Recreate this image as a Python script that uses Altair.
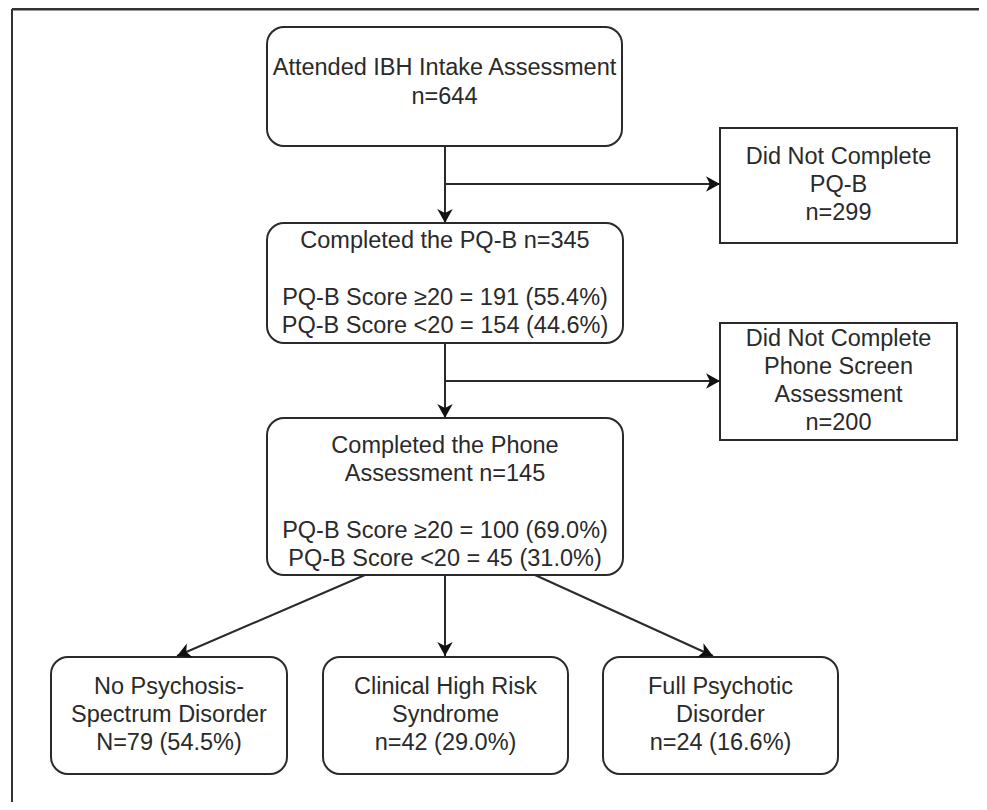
import math
import altair as alt
import pandas as pd

# ---------------- content ----------------
box_labels = [
    "Attended IBH Intake Assessment\nn=644",
    "Did Not Complete\nPQ-B\nn=299",
    "Completed the PQ-B n=345\n\nPQ-B Score \u226520 = 191 (55.4%)\nPQ-B Score <20 = 154 (44.6%)",
    "Did Not Complete\nPhone Screen\nAssessment\nn=200",
    "Completed the Phone\nAssessment n=145\n\nPQ-B Score \u226520 = 100 (69.0%)\nPQ-B Score <20 = 45 (31.0%)",
    "No Psychosis-\nSpectrum Disorder\nN=79 (54.5%)",
    "Clinical High Risk\nSyndrome\nn=42 (29.0%)",
    "Full Psychotic\nDisorder\nn=24 (16.6%)",
]
box_rounded = [True, False, True, False, True, True, True, True]

# ---------------- layout (page pixels) ----------------
box_x0 = [267, 720, 267, 720, 267, 51, 323, 603]
box_x1 = [622, 957, 623, 957, 623, 287, 568, 838]
box_y0 = [27, 128, 223, 323, 418, 657, 657, 657]
box_y1 = [146, 243, 343, 440, 575, 774, 774, 774]
text_y = [82.5, 185, 283.5, 381, 502.5, 715, 715, 715]
LINE_H = 28.3

edge_x1 = [445, 445, 445, 445, 445, 365, 535]
edge_y1 = [146, 184, 343, 381, 575, 575, 575]
edge_x2 = [445, 720, 445, 720, 445, 177, 713]
edge_y2 = [223, 184, 418, 381, 656, 656, 656]

frame_x0, frame_y0, frame_x1, frame_y1 = 12, 9, 979, 802

W, H, M = 971, 794, 8
xs = alt.Scale(domain=[M, M + W], nice=False, zero=False)
ys = alt.Scale(domain=[M, M + H], nice=False, zero=False, reverse=True)

INK = "#2a2a2a"
FONT = "Liberation Sans"

boxes = pd.DataFrame({
    "x0": box_x0, "x1": box_x1, "y0": box_y0, "y1": box_y1,
    "rounded": box_rounded,
})

# one row per text line, positioned around the box's text centre
rows = []
for lab, a, b, ty in zip(box_labels, box_x0, box_x1, text_y):
    parts = lab.split("\n")
    n = len(parts)
    for i, p in enumerate(parts):
        if p:
            rows.append({"tx": (a + b) / 2, "ty": ty + (i - (n - 1) / 2) * LINE_H, "line": p})
text_df = pd.DataFrame(rows)

edges = pd.DataFrame({"x1": edge_x1, "y1": edge_y1, "x2": edge_x2, "y2": edge_y2})
edges["angle"] = [
    (math.degrees(math.atan2(b2 - b1, a2 - a1)) + 360) % 360
    for a1, b1, a2, b2 in zip(edge_x1, edge_y1, edge_x2, edge_y2)
]


def qx(f):
    return alt.X(f, type="quantitative", scale=xs, axis=None)


def qy(f):
    return alt.Y(f, type="quantitative", scale=ys, axis=None)


frame_df = pd.DataFrame({
    "x1": [frame_x0, frame_x0], "y1": [frame_y0, frame_y0],
    "x2": [frame_x1, frame_x0], "y2": [frame_y0, frame_y1],
    "w": [3, 2],
})
frame = alt.Chart(frame_df).mark_rule(color="#333333").encode(
    x=qx("x1"), y=qy("y1"), x2=alt.X2("x2"), y2=alt.Y2("y2"),
    strokeWidth=alt.StrokeWidth("w:Q", scale=None),
)

lines = alt.Chart(edges).mark_rule(color=INK, strokeWidth=2).encode(
    x=qx("x1"), y=qy("y1"), x2=alt.X2("x2"), y2=alt.Y2("y2"),
)

arrow_path = "M0,0 L-1,-0.55 L-0.72,0 L-1,0.55 Z"
heads = alt.Chart(edges).mark_point(
    shape=arrow_path, filled=True, size=784, color="#111111", opacity=1, strokeWidth=0
).encode(
    x=qx("x2"), y=qy("y2"), angle=alt.Angle("angle:Q", scale=None),
)

rounded = alt.Chart(boxes).transform_filter("datum.rounded").mark_rect(
    fill="white", stroke=INK, strokeWidth=2, cornerRadius=17
).encode(x=qx("x0"), x2=alt.X2("x1"), y=qy("y0"), y2=alt.Y2("y1"))

square = alt.Chart(boxes).transform_filter("!datum.rounded").mark_rect(
    fill="white", stroke=INK, strokeWidth=2
).encode(x=qx("x0"), x2=alt.X2("x1"), y=qy("y0"), y2=alt.Y2("y1"))

texts = alt.Chart(text_df).mark_text(
    font=FONT, fontSize=23.5, color=INK, align="center", baseline="middle",
).encode(x=qx("tx"), y=qy("ty"), text="line:N")

chart = alt.layer(frame, lines, rounded, square, heads, texts).properties(
    width=W, height=H, autosize=alt.AutoSizeParams(type="none"), padding=0,
    background="white",
).configure_view(stroke=None)

chart.save("out.html", embed_options={"renderer": "svg", "actions": False})
